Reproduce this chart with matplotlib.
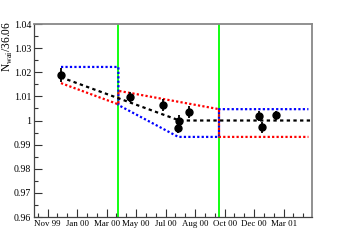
import matplotlib
matplotlib.use("Agg")
import matplotlib.pyplot as plt
import numpy as np

# x in "label units": one unit per major tick label
tick_labels = ["Nov 99", "Jan 00", "Mar 00", "May 00", "Jul 00",
               "Aug 00", "Oct 00", "Dec 00", "Mar 01"]
tick_pos = [0.46, 1.46, 2.46, 3.46, 4.46, 5.46, 6.46, 7.46, 8.46]

pts_x = [0.915, 3.25, 4.37, 4.93, 4.87, 5.24, 7.63, 7.73, 8.20]
pts_y = [1.0188, 1.0096, 1.0065, 0.9999, 0.9970, 1.0036, 1.0018, 0.9971, 1.0021]
pts_err = [0.0028, 0.0021, 0.0024, 0.0025, 0.0022, 0.0024, 0.0022, 0.0024, 0.0020]

black_x = [0.915, 4.93, 9.42]
black_y = [1.0179, 1.0000, 1.0000]

red_x = [0.915, 2.86, 2.86, 6.27, 6.27, 9.30]
red_y = [1.0155, 1.0067, 1.0123, 1.0047, 0.9932, 0.9932]

blue_x = [0.915, 2.86, 2.86, 4.89, 6.27, 6.27, 9.30]
blue_y = [1.0222, 1.0222, 1.0064, 0.9932, 0.9932, 1.0047, 1.0047]

green_x = [2.86, 6.27]

plt.rcParams['font.family'] = ['Liberation Serif', 'DejaVu Serif']

fig = plt.figure(figsize=(3.47, 2.42), dpi=100)
ax = fig.add_axes([0.098, 0.1033, 0.801, 0.7975])

for gx in green_x:
    ax.axvline(gx, color="#00ff00", lw=1.3, zorder=1)

ax.plot(blue_x, blue_y, color="#0000ff", ls=(0, (1, 1)), lw=1.6, zorder=2)
ax.plot(red_x, red_y, color="#ff0000", ls=(0, (1, 1)), lw=1.6, zorder=3)
ax.plot(black_x, black_y, color="black", ls=(0, (1.5, 1.5)), lw=1.6, zorder=4)

ax.errorbar(pts_x, pts_y, yerr=pts_err, fmt="o", color="black", ms=5,
            elinewidth=1.3, capsize=0, zorder=5)

ax.set_xlim(0, 9.42)
ax.set_ylim(0.96, 1.04)

ax.set_xticks(tick_pos)
ax.set_xticklabels(tick_labels, fontsize=6.4)
ax.set_xticks(np.arange(0.46 - 1/3, 9.42, 1/3), minor=True)
yt = np.arange(0.96, 1.0401, 0.01)
ax.set_yticks(yt)
ax.set_yticklabels(["%g" % round(v, 2) for v in yt], fontsize=7.1)
ax.set_yticks(np.arange(0.965, 1.04, 0.01), minor=True)

ax.tick_params(axis="both", which="major", direction="in", length=6, width=0.8,
               color="#333333", pad=2)
ax.tick_params(axis="both", which="minor", direction="in", length=3, width=0.8,
               color="#333333")
ax.tick_params(top=False, right=False, which="both")

for s in ["top", "right"]:
    ax.spines[s].set_color("#888888")
    ax.spines[s].set_linewidth(1.3)
for s in ["left", "bottom"]:
    ax.spines[s].set_color("#444444")
    ax.spines[s].set_linewidth(0.9)

fig.text(0.002, 0.915, r"N$_{\mathregular{wai}}$/36.06", rotation=90,
         fontsize=8.3, ha="left", va="top")

fig.savefig("out.png", dpi=100)
